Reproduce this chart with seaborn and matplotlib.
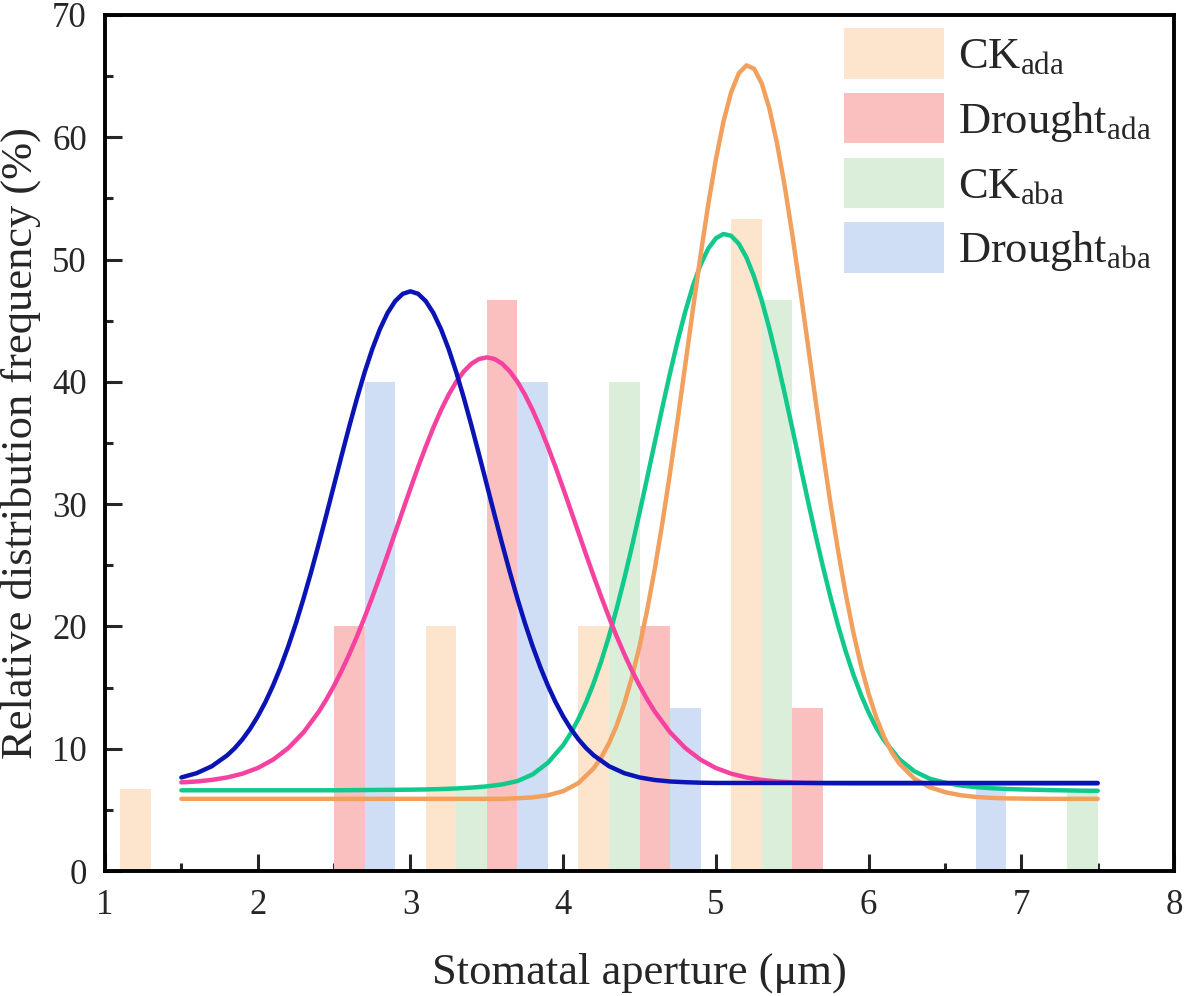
import numpy as np
import pandas as pd
import matplotlib
matplotlib.use("Agg")
import matplotlib.pyplot as plt
import seaborn as sns
from matplotlib.ticker import MultipleLocator

OUT_PATH = "out.png"

# bar data: bin centres (um) and relative frequency (%)
ck_ada_x = [1.2, 3.2, 4.2, 5.2]
ck_ada_y = [6.67, 20.0, 20.0, 53.33]
dr_ada_x = [2.6, 3.6, 4.6, 5.6]
dr_ada_y = [20.0, 46.67, 20.0, 13.33]
ck_aba_x = [3.4, 4.4, 5.4, 7.4]
ck_aba_y = [6.67, 40.0, 46.67, 6.67]
dr_aba_x = [2.8, 3.8, 4.8, 6.8]
dr_aba_y = [40.0, 40.0, 13.33, 6.67]

labels = [r"CK$_{\mathrm{ada}}$", r"Drought$_{\mathrm{ada}}$",
          r"CK$_{\mathrm{aba}}$", r"Drought$_{\mathrm{aba}}$"]

# fitted curves, every 0.1 um from 1.5 to 7.5
curve_x = list(np.round(np.arange(1.5, 7.55, 0.1), 1))
fit_dr_aba = [7.65, 8.00, 8.57, 9.46, 10.77, 12.64, 15.16, 18.38, 22.29, 26.77,
              31.58, 36.39, 40.78, 44.31, 46.60, 47.40, 46.60, 44.31, 40.78, 36.39,
              31.58, 26.77, 22.29, 18.38, 15.16, 12.64, 10.77, 9.46, 8.57, 8.00,
              7.65, 7.44, 7.32, 7.26, 7.22] + [7.2] * 26
fit_dr_ada = [7.25, 7.32, 7.45, 7.65, 7.96, 8.42, 9.10, 10.05, 11.34, 13.03,
              15.16, 17.74, 20.75, 24.10, 27.68, 31.28, 34.69, 37.68, 40.01, 41.49,
              42.00, 41.49, 40.01, 37.68, 34.69, 31.28, 27.68, 24.10, 20.75, 17.74,
              15.16, 13.03, 11.34, 10.05, 9.10, 8.42, 7.96, 7.65, 7.45, 7.32,
              7.25, 7.20, 7.17, 7.16] + [7.15] * 17
fit_ck_aba = [6.60, 6.60, 6.60, 6.60, 6.60, 6.60, 6.60, 6.60, 6.60, 6.60,
              6.60, 6.61, 6.62, 6.63, 6.64, 6.65, 6.67, 6.70, 6.75, 6.82,
              6.92, 7.08, 7.35, 7.90, 8.85, 10.29, 12.44, 15.38, 19.20, 23.90,
              29.29, 35.06, 40.73, 45.77, 49.59, 51.74, 51.94, 50.17, 46.65, 41.81,
              36.21, 30.42, 24.93, 20.08, 16.07, 12.96, 10.70, 9.15, 8.15, 7.55,
              7.22, 7.00, 6.86, 6.77, 6.71, 6.67, 6.64, 6.61, 6.59, 6.57, 6.56]
fit_ck_ada = [5.90] * 22 + [5.95, 6.02, 6.19, 6.53, 7.19, 8.40, 10.45, 13.67, 18.38,
              24.72, 32.58, 41.44, 50.38, 58.20, 63.68, 65.88, 64.41, 59.52, 52.07,
              43.26, 34.30, 26.19, 19.51, 14.49, 10.99, 8.80, 7.55, 6.85, 6.45,
              6.20, 6.06, 5.98, 5.94, 5.92, 5.91, 5.90, 5.90, 5.90, 5.90]

# extra readings between the 0.1 steps around each peak
mid_dr_aba_x = [1.85, 1.95, 2.05, 2.15, 2.25, 2.35, 2.45, 2.55, 2.65, 2.75, 2.85, 2.95,
                3.05, 3.15, 3.25, 3.35, 3.45, 3.55, 3.65, 3.75, 3.85, 3.95, 4.05, 4.15]
mid_dr_aba_y = [10.05, 11.63, 13.81, 16.68, 20.25, 24.47, 29.15, 34.01, 38.66, 42.68,
                45.63, 47.20, 47.20, 45.63, 42.68, 38.66, 34.01, 29.15, 24.47, 20.25,
                16.68, 13.81, 11.63, 10.05]
mid_dr_ada_x = [2.45, 2.55, 2.65, 2.75, 2.85, 2.95, 3.05, 3.15, 3.25, 3.35, 3.45,
                3.55, 3.65, 3.75, 3.85, 3.95, 4.05, 4.15, 4.25, 4.35, 4.45, 4.55]
mid_dr_ada_y = [14.04, 16.39, 19.19, 22.39, 25.87, 29.49, 33.03, 36.26, 38.94, 40.86,
                41.87, 41.87, 40.86, 38.94, 36.26, 33.03, 29.49, 25.87, 22.39, 19.19,
                16.39, 14.04]
mid_ck_aba_x = [4.05, 4.15, 4.25, 4.35, 4.45, 4.55, 4.65, 4.75, 4.85, 4.95, 5.05,
                5.15, 5.25, 5.35, 5.45, 5.55, 5.65, 5.75, 5.85, 5.95, 6.05]
mid_ck_aba_y = [11.27, 13.80, 17.18, 21.45, 26.52, 32.15, 37.94, 43.37, 47.86, 50.90,
                52.09, 51.29, 48.60, 44.36, 39.07, 33.31, 27.61, 22.41, 17.96, 14.41,
                11.71]
mid_ck_ada_x = [4.25, 4.35, 4.45, 4.55, 4.65, 4.75, 4.85, 4.95, 5.05, 5.15, 5.25,
                5.35, 5.45, 5.55, 5.65, 5.75, 5.85, 5.95, 6.05, 6.15]
mid_ck_ada_y = [9.30, 11.89, 15.83, 21.34, 28.49, 36.94, 45.97, 54.51, 61.30, 65.23,
                65.60, 62.35, 56.05, 47.76, 38.73, 30.09, 22.65, 16.80, 12.56, 9.75]

bar_colors = ["#FDE4CD", "#FAC0C0", "#DAEEDA", "#D0DEF5"]
line_colors = {"ck_ada": "#F2A05E", "dr_ada": "#F542A0",
               "ck_aba": "#10C98A", "dr_aba": "#0A14B4"}

bars = pd.DataFrame({
    "x": ck_ada_x + dr_ada_x + ck_aba_x + dr_aba_x,
    "y": ck_ada_y + dr_ada_y + ck_aba_y + dr_aba_y,
    "group": [labels[0]] * 4 + [labels[1]] * 4 + [labels[2]] * 4 + [labels[3]] * 4,
})

sns.set_style("ticks")
plt.rcParams["font.family"] = ["Liberation Serif", "DejaVu Serif"]
plt.rcParams["mathtext.fontset"] = "custom"
plt.rcParams["mathtext.rm"] = "Liberation Serif"
plt.rcParams["mathtext.it"] = "Liberation Serif:italic"
plt.rcParams["mathtext.bf"] = "Liberation Serif:bold"

fig = plt.figure(figsize=(11.84, 9.96), dpi=100)
ax = fig.add_axes([0.0887, 0.1255, 0.9029, 0.8595])

sns.barplot(data=bars, x="x", y="y", hue="group", hue_order=labels,
            palette=dict(zip(labels, bar_colors)), native_scale=True,
            dodge=False, width=1.0, saturation=1, linewidth=0,
            errorbar=None, ax=ax)

lw = 3.2
curves = [
    (fit_ck_aba, mid_ck_aba_x, mid_ck_aba_y, line_colors["ck_aba"]),
    (fit_ck_ada, mid_ck_ada_x, mid_ck_ada_y, line_colors["ck_ada"]),
    (fit_dr_ada, mid_dr_ada_x, mid_dr_ada_y, line_colors["dr_ada"]),
    (fit_dr_aba, mid_dr_aba_x, mid_dr_aba_y, line_colors["dr_aba"]),
]
for base_y, mx, my, col in curves:
    sns.lineplot(x=curve_x + mx, y=base_y + my, color=col, lw=lw,
                 ax=ax, legend=False, sort=True)

ax.set_xlim(1, 8)
ax.set_ylim(0, 70)
ax.xaxis.set_major_locator(MultipleLocator(1))
ax.xaxis.set_minor_locator(MultipleLocator(0.5))
ax.yaxis.set_major_locator(MultipleLocator(10))
ax.yaxis.set_minor_locator(MultipleLocator(5))
ax.tick_params(which="both", direction="in", width=2.2, labelsize=25, pad=13,
               top=False, right=False)
ax.tick_params(which="major", length=12)
ax.tick_params(which="minor", length=6)
for sp in ax.spines.values():
    sp.set_linewidth(2.8)
    sp.set_color("black")

ax.set_xlabel("Stomatal aperture (\u03bcm)", fontsize=32, labelpad=22)
ax.set_ylabel("Relative distribution frequency (%)", fontsize=32, labelpad=8)

sns.move_legend(ax, "upper left", bbox_to_anchor=(0.675, 1.005), frameon=False,
                fontsize=32, title=None, handlelength=2.25, handleheight=1.36,
                labelspacing=0.32, handletextpad=0.3, borderaxespad=0.0)

fig.savefig(OUT_PATH, dpi=100)
plt.close(fig)
print("saved", OUT_PATH)
